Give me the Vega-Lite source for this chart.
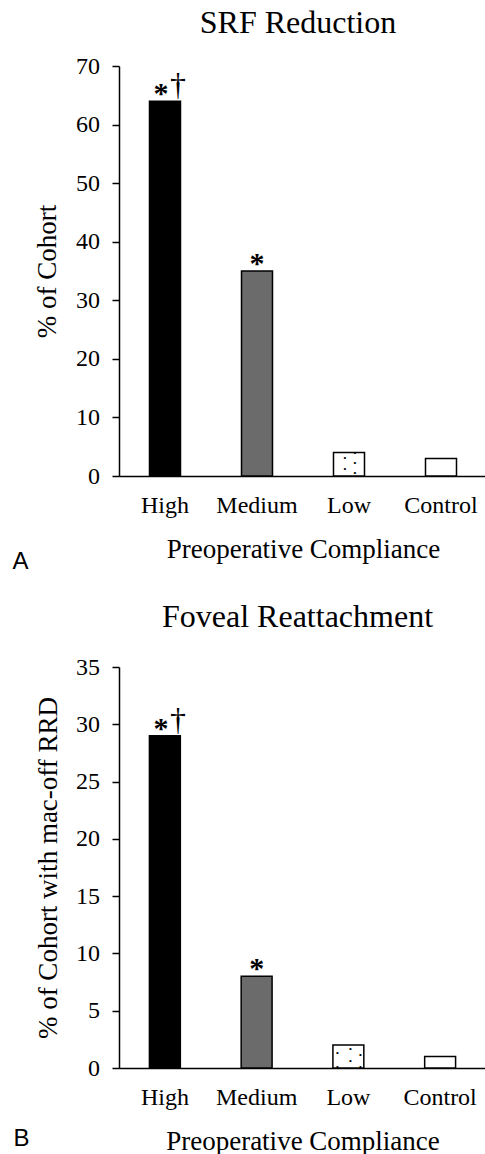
{
  "$schema": "https://vega.github.io/schema/vega-lite/v6.json",
  "padding": {"left": 12, "top": 7, "right": 0, "bottom": 0},
  "spacing": 27,
  "config": {
    "font": "Liberation Serif",
    "view": {"stroke": null},
    "axis": {
      "labelFont": "Liberation Serif", "labelFontSize": 24, "labelColor": "black",
      "titleFont": "Liberation Serif", "titleFontSize": 27, "titleFontWeight": "normal", "titleColor": "black",
      "domainColor": "black", "domainWidth": 1.5, "tickColor": "black", "tickWidth": 1.5, "grid": false
    },
    "title": {"font": "Liberation Serif", "fontSize": 32, "fontWeight": "normal", "color": "black"}
  },
  "datasets": {
    "srf": [
      {"cat": "High", "v": 64, "star": "*", "dag": "†"},
      {"cat": "Medium", "v": 35, "star": "*", "dag": ""},
      {"cat": "Low", "v": 4, "star": "", "dag": ""},
      {"cat": "Control", "v": 3, "star": "", "dag": ""}
    ],
    "srfdots": [
      {"cat": "Low", "col": "l", "y": 3.0},
      {"cat": "Low", "col": "l", "y": 1.2},
      {"cat": "Low", "col": "r", "y": 3.9},
      {"cat": "Low", "col": "r", "y": 2.3},
      {"cat": "Low", "col": "r", "y": 0.5}
    ],
    "fov": [
      {"cat": "High", "v": 29, "star": "*", "dag": "†"},
      {"cat": "Medium", "v": 8, "star": "*", "dag": ""},
      {"cat": "Low", "v": 2, "star": "", "dag": ""},
      {"cat": "Control", "v": 1, "star": "", "dag": ""}
    ],
    "fovdots": [
      {"cat": "Low", "col": "l", "y": 1.3},
      {"cat": "Low", "col": "l", "y": 0.1},
      {"cat": "Low", "col": "m", "y": 1.66},
      {"cat": "Low", "col": "m", "y": 0.6},
      {"cat": "Low", "col": "r", "y": 1.13},
      {"cat": "Low", "col": "r", "y": 0.1}
    ]
  },
  "vconcat": [
    {
      "title": {"text": "A", "orient": "bottom", "anchor": "start", "font": "Liberation Sans", "fontSize": 24, "fontWeight": "normal", "offset": -12, "dx": -21},
      "vconcat": [
        {
          "title": {"text": "SRF Reduction", "offset": 14, "dx": -5},
          "width": 368,
          "height": 410,
          "encoding": {
            "x": {"field": "cat", "type": "nominal", "sort": ["High", "Medium", "Low", "Control"],
              "scale": {"paddingInner": 0.663, "paddingOuter": 0.3315},
              "axis": {"labelAngle": 0, "ticks": false, "labelPadding": 17, "title": "Preoperative Compliance", "titlePadding": 19}}
          },
          "layer": [
            {
              "data": {"name": "srf"},
              "mark": {"type": "bar", "stroke": "black", "strokeWidth": 1.5},
              "encoding": {
                "y": {"field": "v", "type": "quantitative", "scale": {"domain": [0, 70], "nice": false},
                  "axis": {"values": [0, 10, 20, 30, 40, 50, 60, 70], "tickSize": 7, "labelPadding": 12.5, "title": "% of Cohort", "titlePadding": 14}},
                "fill": {"field": "cat", "type": "nominal", "legend": null,
                  "scale": {"domain": ["High", "Medium", "Low", "Control"], "range": ["#000000", "#6b6b6b", "#ffffff", "#ffffff"]}}
              }
            },
            {
              "data": {"name": "srfdots"},
              "transform": [{"filter": "datum.col == 'l'"}],
              "mark": {"type": "text", "text": "•", "font": "Liberation Sans", "fontSize": 8, "baseline": "middle", "color": "black", "dx": -4},
              "encoding": {"y": {"field": "y", "type": "quantitative"}}
            },
            {
              "data": {"name": "srfdots"},
              "transform": [{"filter": "datum.col == 'r'"}],
              "mark": {"type": "text", "text": "•", "font": "Liberation Sans", "fontSize": 8, "baseline": "middle", "color": "black", "dx": 6},
              "encoding": {"y": {"field": "y", "type": "quantitative"}}
            },
            {
              "data": {"name": "srf"},
              "transform": [{"filter": "datum.dag == ''"}],
              "mark": {"type": "text", "baseline": "alphabetic", "fontSize": 30, "fontWeight": "bold", "font": "Liberation Serif", "color": "black", "dy": 2},
              "encoding": {"y": {"field": "v", "type": "quantitative"}, "text": {"field": "star"}}
            },
            {
              "data": {"name": "srf"},
              "transform": [{"filter": "datum.dag != ''"}],
              "mark": {"type": "text", "baseline": "alphabetic", "fontSize": 30, "fontWeight": "bold", "font": "Liberation Serif", "color": "black", "dy": 2, "dx": -4},
              "encoding": {"y": {"field": "v", "type": "quantitative"}, "text": {"field": "star"}}
            },
            {
              "data": {"name": "srf"},
              "transform": [{"filter": "datum.dag != ''"}],
              "mark": {"type": "text", "baseline": "alphabetic", "fontSize": 32, "font": "Liberation Serif", "color": "black", "dx": 13, "dy": -6},
              "encoding": {"y": {"field": "v", "type": "quantitative"}, "text": {"field": "dag"}}
            }
          ]
        }
      ]
    },
    {
      "title": {"text": "B", "orient": "bottom", "anchor": "start", "font": "Liberation Sans", "fontSize": 24, "fontWeight": "normal", "offset": -27, "dx": -21},
      "vconcat": [
        {
          "title": {"text": "Foveal Reattachment", "offset": 21, "dx": -5},
          "width": 367,
          "height": 401,
          "encoding": {
            "x": {"field": "cat", "type": "nominal", "sort": ["High", "Medium", "Low", "Control"],
              "scale": {"paddingInner": 0.663, "paddingOuter": 0.3315},
              "axis": {"labelAngle": 0, "ticks": false, "labelPadding": 17, "title": "Preoperative Compliance", "titlePadding": 19}}
          },
          "layer": [
            {
              "data": {"name": "fov"},
              "mark": {"type": "bar", "stroke": "black", "strokeWidth": 1.5},
              "encoding": {
                "y": {"field": "v", "type": "quantitative", "scale": {"domain": [0, 35], "nice": false},
                  "axis": {"values": [0, 5, 10, 15, 20, 25, 30, 35], "tickSize": 7, "labelPadding": 12.5, "title": "% of Cohort with mac-off RRD", "titlePadding": 13}},
                "fill": {"field": "cat", "type": "nominal", "legend": null,
                  "scale": {"domain": ["High", "Medium", "Low", "Control"], "range": ["#000000", "#6b6b6b", "#ffffff", "#ffffff"]}}
              }
            },
            {
              "data": {"name": "fovdots"},
              "transform": [{"filter": "datum.col == 'l'"}],
              "mark": {"type": "text", "text": "•", "font": "Liberation Sans", "fontSize": 8, "baseline": "middle", "color": "black", "dx": -11},
              "encoding": {"y": {"field": "y", "type": "quantitative"}}
            },
            {
              "data": {"name": "fovdots"},
              "transform": [{"filter": "datum.col == 'm'"}],
              "mark": {"type": "text", "text": "•", "font": "Liberation Sans", "fontSize": 8, "baseline": "middle", "color": "black", "dx": 2},
              "encoding": {"y": {"field": "y", "type": "quantitative"}}
            },
            {
              "data": {"name": "fovdots"},
              "transform": [{"filter": "datum.col == 'r'"}],
              "mark": {"type": "text", "text": "•", "font": "Liberation Sans", "fontSize": 8, "baseline": "middle", "color": "black", "dx": 12},
              "encoding": {"y": {"field": "y", "type": "quantitative"}}
            },
            {
              "data": {"name": "fov"},
              "transform": [{"filter": "datum.dag == ''"}],
              "mark": {"type": "text", "baseline": "alphabetic", "fontSize": 30, "fontWeight": "bold", "font": "Liberation Serif", "color": "black", "dy": 2},
              "encoding": {"y": {"field": "v", "type": "quantitative"}, "text": {"field": "star"}}
            },
            {
              "data": {"name": "fov"},
              "transform": [{"filter": "datum.dag != ''"}],
              "mark": {"type": "text", "baseline": "alphabetic", "fontSize": 30, "fontWeight": "bold", "font": "Liberation Serif", "color": "black", "dy": 2, "dx": -4},
              "encoding": {"y": {"field": "v", "type": "quantitative"}, "text": {"field": "star"}}
            },
            {
              "data": {"name": "fov"},
              "transform": [{"filter": "datum.dag != ''"}],
              "mark": {"type": "text", "baseline": "alphabetic", "fontSize": 32, "font": "Liberation Serif", "color": "black", "dx": 13, "dy": -6},
              "encoding": {"y": {"field": "v", "type": "quantitative"}, "text": {"field": "dag"}}
            }
          ]
        }
      ]
    }
  ]
}
